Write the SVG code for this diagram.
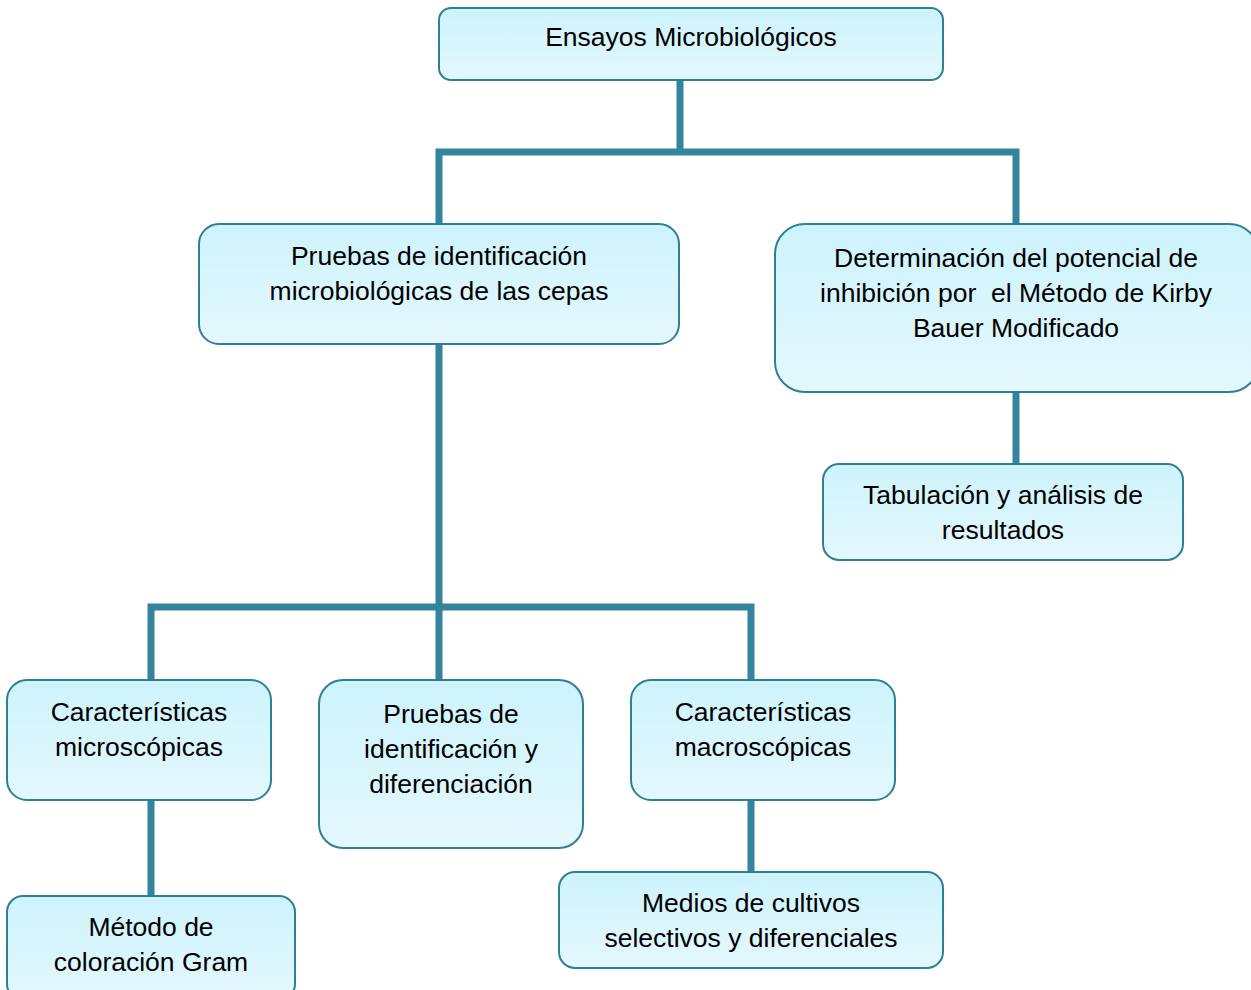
<svg xmlns="http://www.w3.org/2000/svg" width="1251" height="990" viewBox="0 0 1251 990">
<defs>
<linearGradient id="g" x1="0" y1="0" x2="0" y2="1">
<stop offset="0" stop-color="#cdf3fd"/>
<stop offset="1" stop-color="#e4f8fd"/>
</linearGradient>
<style>
.box{fill:url(#g);stroke:#2f7f97;stroke-width:2}
.t{font-family:"Liberation Sans",Arial,sans-serif;font-size:26.5px;fill:#000;text-anchor:middle}
.c{fill:none;stroke:#33849c;stroke-width:7;stroke-linecap:square}
</style>
</defs>
<rect width="1251" height="990" fill="#fff"/>
<g id="connectors">
<path class="c" d="M680 80V152M439 224V152H1016V224"/>
<path class="c" d="M1016 392V464"/>
<path class="c" d="M439 344V680M151 680V607H751V680"/>
<path class="c" d="M151 800V896"/>
<path class="c" d="M751 800V872"/>
</g>
<g id="n1">
<rect class="box" x="439" y="8" width="504" height="72" rx="12"/>
<text class="t" x="691" y="46">Ensayos Microbiológicos</text>
</g>
<g id="n2">
<rect class="box" x="199" y="224" width="480" height="120" rx="20"/>
<text class="t" x="439" y="265">Pruebas de identificación</text>
<text class="t" x="439" y="300">microbiológicas de las cepas</text>
</g>
<g id="n3">
<rect class="box" x="775" y="224" width="484" height="168" rx="30"/>
<text class="t" x="1016" y="267">Determinación del potencial de</text>
<text class="t" x="1016" y="302" xml:space="preserve">inhibición por  el Método de Kirby</text>
<text class="t" x="1016" y="337">Bauer Modificado</text>
</g>
<g id="n4">
<rect class="box" x="823" y="464" width="360" height="96" rx="16"/>
<text class="t" x="1003" y="504">Tabulación y análisis de</text>
<text class="t" x="1003" y="539">resultados</text>
</g>
<g id="n5">
<rect class="box" x="7" y="680" width="264" height="120" rx="20"/>
<text class="t" x="139" y="721">Características</text>
<text class="t" x="139" y="756">microscópicas</text>
</g>
<g id="n6">
<rect class="box" x="319" y="680" width="264" height="168" rx="24"/>
<text class="t" x="451" y="723">Pruebas de</text>
<text class="t" x="451" y="758">identificación y</text>
<text class="t" x="451" y="793">diferenciación</text>
</g>
<g id="n7">
<rect class="box" x="631" y="680" width="264" height="120" rx="20"/>
<text class="t" x="763" y="721">Características</text>
<text class="t" x="763" y="756">macroscópicas</text>
</g>
<g id="n8">
<rect class="box" x="7" y="896" width="288" height="104" rx="16"/>
<text class="t" x="151" y="936">Método de</text>
<text class="t" x="151" y="971">coloración Gram</text>
</g>
<g id="n9">
<rect class="box" x="559" y="872" width="384" height="96" rx="16"/>
<text class="t" x="751" y="912">Medios de cultivos</text>
<text class="t" x="751" y="947">selectivos y diferenciales</text>
</g>
</svg>
